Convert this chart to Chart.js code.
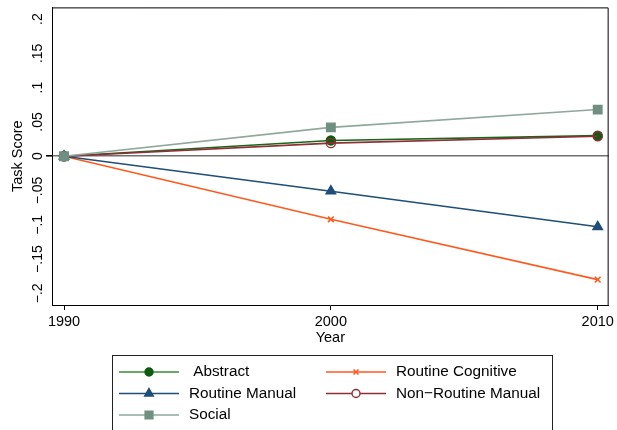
<!DOCTYPE html>
<html>
<head>
<meta charset="utf-8">
<script src="https://cdn.jsdelivr.net/npm/chart.js@4"></script>
<style>
  html, body { margin: 0; padding: 0; background: #fff; }
  #wrap { width: 617px; height: 430px; }
</style>
</head>
<body>
<div id="wrap"><canvas id="c" width="617" height="430"></canvas></div>
<script>
// Task scores relative to 1990
const years = [1990, 2000, 2010];
const abstractScore = [0, 0.023, 0.030];
const routineCognitive = [0, -0.092, -0.180];
const routineManual = [0, -0.051, -0.103];
const nonRoutineManual = [0, 0.019, 0.029];
const social = [0, 0.042, 0.068];
const yTicks = [-0.2, -0.15, -0.1, -0.05, 0, 0.05, 0.1, 0.15, 0.2];
const xTicks = [1990, 2000, 2010];

const FONT = '"Liberation Sans", Arial, sans-serif';

function pts(vals) { return years.map((y, i) => ({ x: y, y: vals[i] })); }

function fmtTick(v) {
  if (v === 0) return '0';
  const s = Math.abs(v).toString().replace(/^0/, '');
  return (v < 0 ? '\u2212' : '') + s;
}

const series = [
  { label: ' Abstract', data: pts(abstractScore), color: '#17661a', mcolor: '#0f5a0f', legendColor: '#3a8a3a', style: 'circle', r: 4.5, fill: true, col: 0, row: 0, order: 2 },
  { label: 'Routine Cognitive', data: pts(routineCognitive), color: '#ff5a1e', mcolor: '#ff5a1e', style: 'crossRot', r: 4, fill: true, col: 1, row: 0, order: 4 },
  { label: 'Routine Manual', data: pts(routineManual), color: '#1f4e79', mcolor: '#1f4e79', style: 'triangle', r: 5.5, fill: true, col: 0, row: 1, order: 3 },
  { label: 'Non\u2212Routine Manual', data: pts(nonRoutineManual), color: '#8e2f35', mcolor: '#8e2f35', style: 'circle', r: 4.5, fill: false, col: 1, row: 1, order: 1 },
  { label: 'Social', data: pts(social), color: '#8fa89c', mcolor: '#6f8f81', style: 'rect', r: 6, fill: true, col: 0, row: 2, order: 0 }
];

const datasets = series.map(s => ({
  label: s.label,
  data: s.data,
  borderColor: s.color,
  backgroundColor: s.fill ? s.mcolor : '#ffffff',
  pointBorderColor: s.mcolor,
  pointBackgroundColor: s.fill ? s.mcolor : 'rgba(0,0,0,0)',
  pointStyle: s.style,
  pointRadius: s.r,
  pointBorderWidth: s.style === 'crossRot' ? 1.6 : 1.4,
  borderWidth: 1.6,
  tension: 0,
  order: s.order
}));

// Frame, rotated y labels, axis titles and a two-column legend
const decor = {
  id: 'decor',
  afterDraw(chart) {
    const ctx = chart.ctx;
    const a = chart.chartArea;
    const ys = chart.scales.y;
    ctx.save();
    // top and right frame edges
    ctx.strokeStyle = '#000';
    ctx.lineWidth = 1;
    ctx.beginPath();
    ctx.moveTo(a.left, a.top + 0.5);
    ctx.lineTo(a.right - 0.5, a.top + 0.5);
    ctx.lineTo(a.right - 0.5, a.bottom);
    ctx.stroke();

    // y tick labels, rotated
    ctx.fillStyle = '#000';
    ctx.font = '14px ' + FONT;
    ctx.textAlign = 'center';
    ctx.textBaseline = 'middle';
    yTicks.forEach(v => {
      const py = ys.getPixelForValue(v);
      ctx.save();
      ctx.translate(38, py);
      ctx.rotate(-Math.PI / 2);
      ctx.fillText(fmtTick(v), 0, 0);
      ctx.restore();
    });

    // axis titles
    ctx.font = '14.5px ' + FONT;
    ctx.save();
    ctx.translate(18, (a.top + a.bottom) / 2);
    ctx.rotate(-Math.PI / 2);
    ctx.fillText('Task Score', 0, 0);
    ctx.restore();
    ctx.fillText('Year', (a.left + a.right) / 2, 338);

    // legend
    const box = { l: 112.5, t: 355.5, r: 552.5, b: 440 };
    ctx.strokeStyle = '#222';
    ctx.lineWidth = 1;
    ctx.strokeRect(box.l, box.t, box.r - box.l, box.b - box.t);
    const colLine = [[119, 179], [326, 386]];
    const colText = [189, 396];
    const rowY = [372, 393.5, 415];
    ctx.font = '15.3px ' + FONT;
    ctx.textAlign = 'left';
    series.forEach(s => {
      const [x0, x1] = colLine[s.col];
      const y = rowY[s.row];
      ctx.strokeStyle = s.legendColor || s.color;
      ctx.lineWidth = 1.6;
      ctx.beginPath();
      ctx.moveTo(x0, y);
      ctx.lineTo(x1, y);
      ctx.stroke();
      ctx.fillStyle = s.fill ? s.mcolor : '#ffffff';
      ctx.strokeStyle = s.mcolor;
      ctx.lineWidth = s.style === 'crossRot' ? 1.6 : 1.4;
      Chart.helpers.drawPoint(ctx, { pointStyle: s.style, radius: s.r - 0.5, borderWidth: ctx.lineWidth }, (x0 + x1) / 2, y);
      ctx.fillStyle = '#000';
      ctx.fillText(s.label, colText[s.col], y);
    });
    ctx.restore();
  }
};

new Chart(document.getElementById('c'), {
  type: 'line',
  data: { datasets },
  plugins: [decor],
  options: {
    responsive: false,
    animation: false,
    events: [],
    layout: { padding: { left: 0, top: 7, right: 8, bottom: 95 } },
    plugins: { legend: { display: false }, tooltip: { enabled: false } },
    scales: {
      x: {
        type: 'linear',
        min: 1989.55,
        max: 2010.41,
        afterBuildTicks: s => { s.ticks = xTicks.map(v => ({ value: v })); },
        afterFit: s => { s.height = 30; },
        border: { display: true, color: '#000', width: 1 },
        grid: { drawOnChartArea: false, drawTicks: true, tickLength: 5, tickColor: '#000' },
        ticks: {
          color: '#000',
          font: { family: FONT, size: 14.5 },
          padding: 3,
          maxRotation: 0,
          callback: v => String(v)
        }
      },
      y: {
        type: 'linear',
        min: -0.217,
        max: 0.217,
        afterBuildTicks: s => { s.ticks = yTicks.map(v => ({ value: v })); },
        afterFit: s => { s.width = 52; },
        border: { display: true, color: '#000', width: 1 },
        grid: {
          drawOnChartArea: true,
          drawTicks: true,
          tickLength: 6,
          tickColor: '#000',
          color: c => (c.tick && c.tick.value === 0) ? '#707070' : 'rgba(0,0,0,0)',
          lineWidth: c => (c.tick && c.tick.value === 0) ? 1.6 : 0
        },
        ticks: { display: false }
      }
    }
  }
});
</script>
</body>
</html>
